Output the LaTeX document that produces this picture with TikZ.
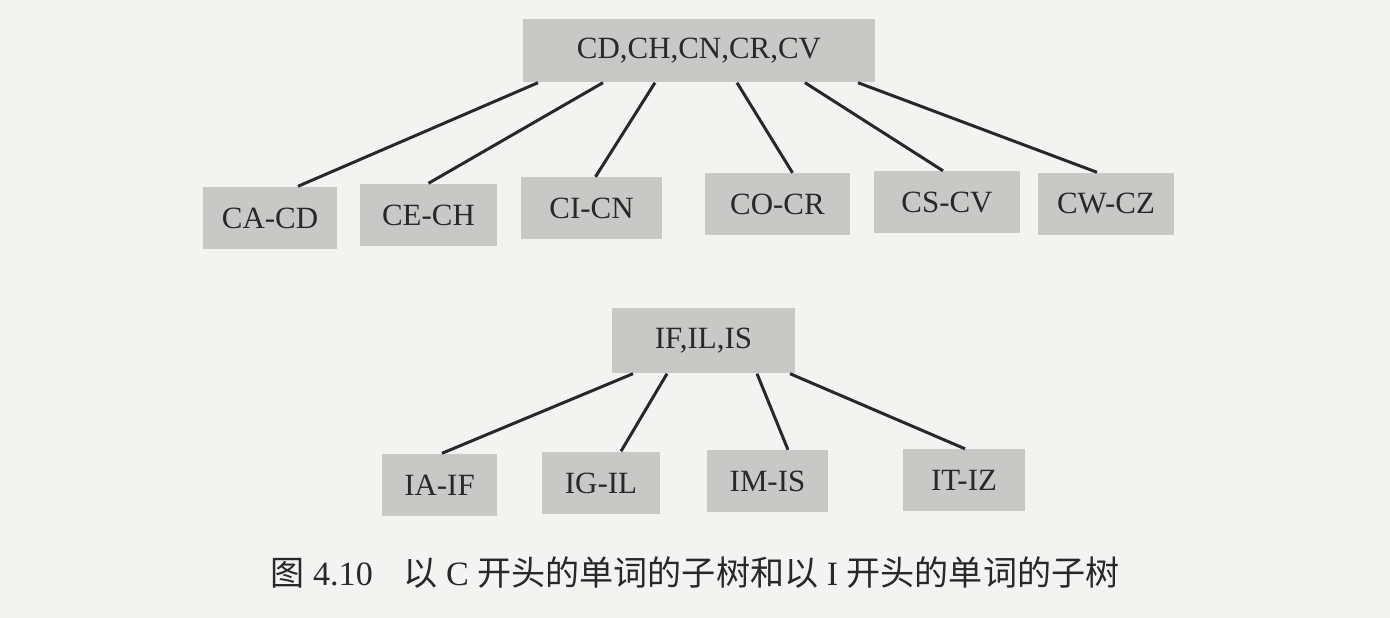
\documentclass[tikz,border=0pt]{standalone}
\usepackage{fontspec}
\setmainfont{Liberation Serif}
\newfontfamily\cjk{Noto Sans CJK SC}
\definecolor{paper}{RGB}{243,243,241}
\definecolor{cellgray}{RGB}{200,200,198}
\definecolor{ink}{RGB}{40,40,40}
\begin{document}
\begin{tikzpicture}[cell/.style={fill=cellgray,text=ink,inner sep=0pt,
                  minimum height=0.62cm,font=\fontsize{8.8}{10}\selectfont},
                  link/.style={draw=ink,line width=0.85pt}]
              \fill[paper] (0,0) rectangle (13.9,6.18);
              % C subtree
              \node[cell,minimum width=3.52cm,minimum height=0.63cm] (cd) at (6.99,5.675) {CD,CH,CN,CR,CV};
              \node[cell,minimum width=1.34cm] (cacd) at (2.70,4.00) {CA-CD};
              \node[cell,minimum width=1.37cm] (cech) at (4.285,4.03) {CE-CH};
              \node[cell,minimum width=1.41cm] (cicn) at (5.915,4.095) {CI-CN};
              \node[cell,minimum width=1.45cm] (cocr) at (7.775,4.135) {CO-CR};
              \node[cell,minimum width=1.46cm] (cscv) at (9.47,4.155) {CS-CV};
              \node[cell,minimum width=1.36cm] (cwcz) at (11.06,4.14) {CW-CZ};
              \draw[link] ([xshift=-1.61cm]cd.south) -- ([xshift=0.28cm]cacd.north);
              \draw[link] ([xshift=-0.96cm]cd.south) -- (cech.north);
              \draw[link] ([xshift=-0.44cm]cd.south) -- ([xshift=0.04cm]cicn.north);
              \draw[link] ([xshift=0.38cm]cd.south) -- ([xshift=0.15cm]cocr.north);
              \draw[link] ([xshift=1.06cm]cd.south) -- ([xshift=-0.04cm]cscv.north);
              \draw[link] ([xshift=1.59cm]cd.south) -- ([xshift=-0.09cm]cwcz.north);
              % I subtree
              \node[cell,minimum width=1.83cm,minimum height=0.65cm] (ifls) at (7.035,2.775) {IF,IL,IS};
              \node[cell,minimum width=1.15cm] (iaif) at (4.395,1.33) {IA-IF};
              \node[cell,minimum width=1.18cm] (igil) at (6.01,1.35) {IG-IL};
              \node[cell,minimum width=1.21cm] (imis) at (7.675,1.365) {IM-IS};
              \node[cell,minimum width=1.22cm] (itiz) at (9.64,1.375) {IT-IZ};
              \draw[link] ([xshift=-0.705cm]ifls.south) -- ([xshift=0.025cm]iaif.north);
              \draw[link] ([xshift=-0.365cm]ifls.south) -- ([xshift=0.20cm]igil.north);
              \draw[link] ([xshift=0.535cm]ifls.south) -- ([xshift=0.205cm]imis.north);
              \draw[link] ([xshift=0.865cm]ifls.south) -- ([xshift=0.01cm]itiz.north);
              % caption
              \node[text=ink,font=\fontsize{9.7}{11}\selectfont] (cap) at (6.95,0.45)
                {{\cjk 图} 4.10\hspace{0.9em}{\cjk 以} C {\cjk 开头的单词的子树和以} I {\cjk 开头的单词的子树}};
          \end{tikzpicture}
\end{document}
